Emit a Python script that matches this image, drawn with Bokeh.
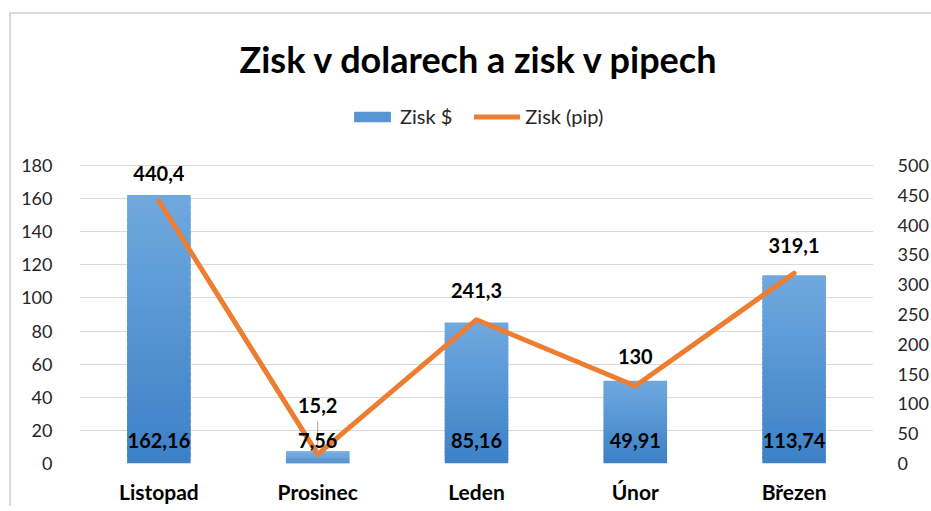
from bokeh.plotting import figure
from bokeh.models import (ColumnDataSource, Range1d, LinearAxis, FactorRange, LabelSet, Label,
                          Legend, LegendItem, FixedTicker)
from bokeh.core.properties import value
from bokeh.embed import file_html
from bokeh.resources import INLINE

# ---- data ----
months = ["Listopad", "Prosinec", "Leden", "Únor", "Březen"]
zisk_usd = [162.16, 7.56, 85.16, 49.91, 113.74]
zisk_pip = [440.4, 15.2, 241.3, 130, 319.1]
usd_labels = ["162,16", "7,56", "85,16", "49,91", "113,74"]
pip_labels = ["440,4", "15,2", "241,3", "130", "319,1"]
left_ticks = [0, 20, 40, 60, 80, 100, 120, 140, 160, 180]
right_ticks = [0, 50, 100, 150, 200, 250, 300, 350, 400, 450, 500]
title_text = "Zisk v dolarech a zisk v pipech"

FONT = "Lato"
LEFT_MAX, RIGHT_MAX = 180, 500
AXIS_H = 298          # pixel height of the 0..180 axis span
TOP_H = 151           # pixels above the axis span (title + legend area)
FULL_H = AXIS_H + TOP_H
scale = FULL_H / AXIS_H

p = figure(x_range=FactorRange(*months, range_padding=0),
           y_range=Range1d(0, LEFT_MAX * scale),
           frame_width=794, frame_height=FULL_H, title=None,
           output_backend="svg", toolbar_location=None,
           min_border_left=68, min_border_right=56,
           min_border_top=0, min_border_bottom=40)
p.styles = {"margin-left": "9px", "margin-top": "12px",
            "border-top": "2px solid #d9d9d9",
            "border-left": "2px solid #d9d9d9"}
p.extra_y_ranges = {"pip": Range1d(0, RIGHT_MAX * scale)}
p.outline_line_color = None
p.background_fill_color = "white"
p.border_fill_color = "white"

# grid
p.xgrid.grid_line_color = None
p.ygrid.ticker = FixedTicker(ticks=left_ticks)
p.ygrid.grid_line_color = "#d9d9d9"
p.ygrid.grid_line_width = 1

def style_axis(ax, size="18px", bold=False, color="#262626", standoff=21):
    ax.axis_line_color = None
    ax.major_tick_line_color = None
    ax.minor_tick_line_color = None
    ax.major_label_text_font = FONT
    ax.major_label_text_font_size = size
    ax.major_label_text_color = color
    ax.major_label_standoff = standoff
    if bold:
        ax.major_label_text_font_style = "bold"

p.yaxis.ticker = FixedTicker(ticks=left_ticks)
style_axis(p.yaxis[0])
style_axis(p.xaxis[0], size="21px", bold=True, color="#000000", standoff=9)

ry = LinearAxis(y_range_name="pip", ticker=FixedTicker(ticks=right_ticks))
style_axis(ry, standoff=18)
p.add_layout(ry, "right")

# bars with vertical gradient (darker at base, lighter at top)
N = 40
c_bot = (0x3c, 0x80, 0xc6)
c_top = (0x70, 0xa9, 0xdf)
bar_renderers = []
for k in range(N):
    f0, f1 = k / N, min(1.0, (k + 1.6) / N)
    t = (k + 0.5) / N
    col = "#%02x%02x%02x" % tuple(int(round(c_bot[i] + (c_top[i] - c_bot[i]) * t)) for i in range(3))
    src = ColumnDataSource(dict(x=months,
                                top=[v * f1 for v in zisk_usd],
                                bottom=[v * f0 for v in zisk_usd]))
    r = p.vbar(x="x", top="top", bottom="bottom", width=0.4, source=src,
               fill_color=col, line_color=None)
    bar_renderers.append(r)

# line
line_src = ColumnDataSource(dict(x=months, y=zisk_pip))
line_r = p.line(x="x", y="y", source=line_src, y_range_name="pip",
                line_color="#ED7D31", line_width=5, line_join="round", line_cap="round")

# leader line for the relocated 15,2 label
px_pip = RIGHT_MAX / AXIS_H
p.segment(x0=[months[1]], x1=[months[1]],
          y0=[zisk_pip[1] + 1 * px_pip], y1=[zisk_pip[1] + 33 * px_pip],
          y_range_name="pip", line_color="#a6a6a6", line_width=1)

# data labels
pip_offsets = [28, 49, 29, 30, 28]
for m, v, t_, off in zip(months, zisk_pip, pip_labels, pip_offsets):
    src = ColumnDataSource(dict(x=[m], y=[v], t=[t_]))
    p.add_layout(LabelSet(x="x", y="y", text="t", source=src, y_range_name="pip",
                          y_offset=off, text_align="center", text_baseline="middle",
                          text_font=value(FONT), text_font_size="20px", text_font_style="bold",
                          text_color="#000000"))

bar_lab_src = ColumnDataSource(dict(x=months, y=[0] * len(months), t=usd_labels))
p.add_layout(LabelSet(x="x", y="y", text="t", source=bar_lab_src,
                      y_offset=23, text_align="center", text_baseline="middle",
                      text_font=value(FONT), text_font_size="20px", text_font_style="bold",
                      text_color="#000000"))

# title (above the axis span)
p.add_layout(Label(x=len(months) / 2 + 0.02, y=LEFT_MAX, y_offset=107, text=title_text,
                   text_align="center", text_baseline="middle",
                   text_font=FONT, text_font_size="36px", text_font_style="bold",
                   text_color="#000000"))

# legend (above the axis span)
legend = Legend(items=[LegendItem(label="Zisk $", renderers=[bar_renderers[N // 2]]),
                       LegendItem(label="Zisk (pip)", renderers=[line_r])],
                orientation="horizontal", location=(270, AXIS_H + 37),
                label_text_font=FONT, label_text_font_size="20px", label_text_color="#262626",
                glyph_width=46, glyph_height=13, label_standoff=5, spacing=22, label_height=20,
                border_line_color=None, background_fill_alpha=0, padding=0, margin=0)
p.add_layout(legend, "center")

open("out.html", "w").write(file_html(p, INLINE))
